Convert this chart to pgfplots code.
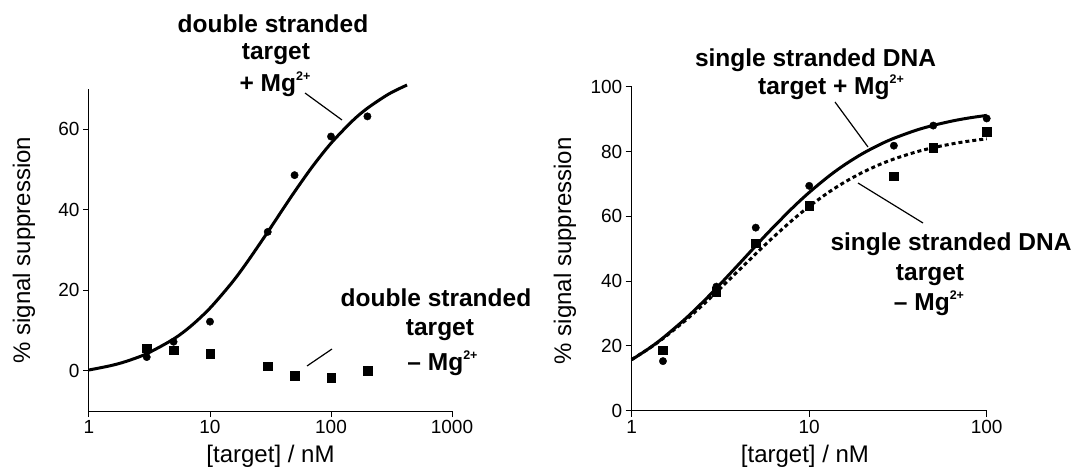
\documentclass[border=0pt]{standalone}
\usepackage{fontspec}
\setmainfont{Liberation Sans}
\usepackage{pgfplots}
\pgfplotsset{compat=1.18}

\newcommand{\ticksize}{\fontsize{19}{19}\selectfont}
\newcommand{\labsize}{\fontsize{24}{24}\selectfont}
\newcommand{\annsize}{\fontsize{24.5}{24.5}\selectfont\bfseries}
\newcommand{\Mg}{Mg\raisebox{11pt}{\fontsize{12.5}{12.5}\selectfont 2+}}

\pgfplotsset{
  myaxis/.style={
    scale only axis, clip=false,
    axis lines=left, axis line style={-, line width=1pt},
    tick align=outside, major tick length=6pt,
    tick style={line width=1pt, black},
    xminorticks=false, yminorticks=false,
    ticklabel style={font=\ticksize},
    label style={font=\labsize},
    xlabel={[target] / nM}, ylabel={\% signal suppression},
  },
  myfit/.style={black, line width=3pt, smooth, no marks},
  mydot/.style={only marks, mark=*, mark size=3.7pt, black},
  mybox/.style={only marks, mark=square*, mark size=4.3pt, black},
}

\begin{document}
\begin{tikzpicture}
\path[use as bounding box] (0,0) rectangle (1085pt,467pt);

% double stranded target
\begin{axis}[xmode=log, myaxis, at={(89pt,56pt)}, anchor=south west,
  width=363pt, height=322pt,
  xmin=1, xmax=1000, ymin=-10, ymax=70,
  xtick={1,10,100,1000}, xticklabels={1,10,100,1000},
  ytick={0,20,40,60}, yticklabels={0,20,40,60},
  xlabel style={at={(axis description cs:0.5,-0.142)}, anchor=center},
  ylabel style={at={(axis description cs:-0.179,0.5)}, anchor=center},
]
\addplot[myfit] coordinates {
  (1,0.19) (1.5,1.25) (2,2.27) (3,4.24) (5,7.88) (7,11.17) (10,15.56)
  (15,21.7) (20,26.73) (30,34.46) (40,40.13) (50,44.47) (70,50.67)
  (100,56.52) (150,62.05) (200,65.23) (300,68.75) (425,70.99)};
\addplot[mydot] coordinates {
  (3,3.4) (5,7.2) (10,12.2) (30,34.5) (50,48.6) (100,58.2) (200,63.2)};
\addplot[mybox] coordinates {
  (3,5.6) (5,5.1) (10,4.2) (30,1.1) (50,-1.3) (100,-1.7) (200,0)};
\end{axis}

% single stranded DNA target
\begin{axis}[xmode=log, myaxis, at={(631.7pt,56.3pt)}, anchor=south west,
  width=355pt, height=324pt,
  xmin=1, xmax=100, ymin=0, ymax=100,
  xtick={1,10,100}, xticklabels={1,10,100},
  ytick={0,20,40,60,80,100}, yticklabels={0,20,40,60,80,100},
  xlabel style={at={(axis description cs:0.488,-0.142)}, anchor=center},
  ylabel style={at={(axis description cs:-0.188,0.494)}, anchor=center},
]
\addplot[myfit] coordinates {
  (1,15.73) (1.25,19.21) (1.5,22.46) (2,28.30) (2.5,33.38) (3,37.81)
  (4,45.13) (5,50.89) (6,55.52) (8,62.45) (10,67.37) (13,72.53)
  (16,76.07) (20,79.37) (25,82.15) (30,84.08) (40,86.56) (50,88.07)
  (65,89.49) (80,90.38) (100,91.14)};
\addplot[myfit, dash pattern=on 4pt off 3pt] coordinates {
  (1,15.81) (1.25,19.17) (1.5,22.27) (2,27.78) (2.5,32.50) (3,36.59)
  (4,43.25) (5,48.43) (6,52.57) (8,58.72) (10,63.06) (13,67.58)
  (16,70.68) (20,73.57) (25,76.0) (30,77.68) (40,79.86) (50,81.19)
  (65,82.44) (80,83.23) (100,83.91)};
\addplot[mydot] coordinates {
  (1.5,15.3) (3,38.3) (5,56.5) (10,69.4) (30,81.8) (50,88) (100,90.2)};
\addplot[mybox] coordinates {
  (1.5,18.7) (3,36.7) (5,51.7) (10,63.2) (30,72.4) (50,81.2) (100,86.1)};
\end{axis}

% annotations
\begin{scope}[every node/.style={anchor=base, font=\annsize, inner sep=0pt}]
\node at (273pt,434.3pt) {double stranded};
\node at (276pt,407.7pt) {target};
\node at (275pt,375.3pt) {+ \Mg};
\node at (436pt,161pt) {double stranded};
\node at (440pt,132pt) {target};
\node at (442.5pt,97pt) {\textendash{} \Mg};
\node at (815.5pt,400.3pt) {single stranded DNA};
\node at (831pt,372.7pt) {target + \Mg};
\node at (951pt,216.3pt) {single stranded DNA};
\node at (930pt,187pt) {target};
\node at (929pt,157pt) {\textendash{} \Mg};
\end{scope}
\draw[line width=1.2pt] (305pt,374pt) -- (342pt,347pt);
\draw[line width=1.2pt] (307pt,101pt) -- (332pt,118pt);
\draw[line width=1.2pt] (835pt,365pt) -- (868pt,320pt);
\draw[line width=1.2pt] (858pt,284pt) -- (923pt,244pt);
\end{tikzpicture}
\end{document}
